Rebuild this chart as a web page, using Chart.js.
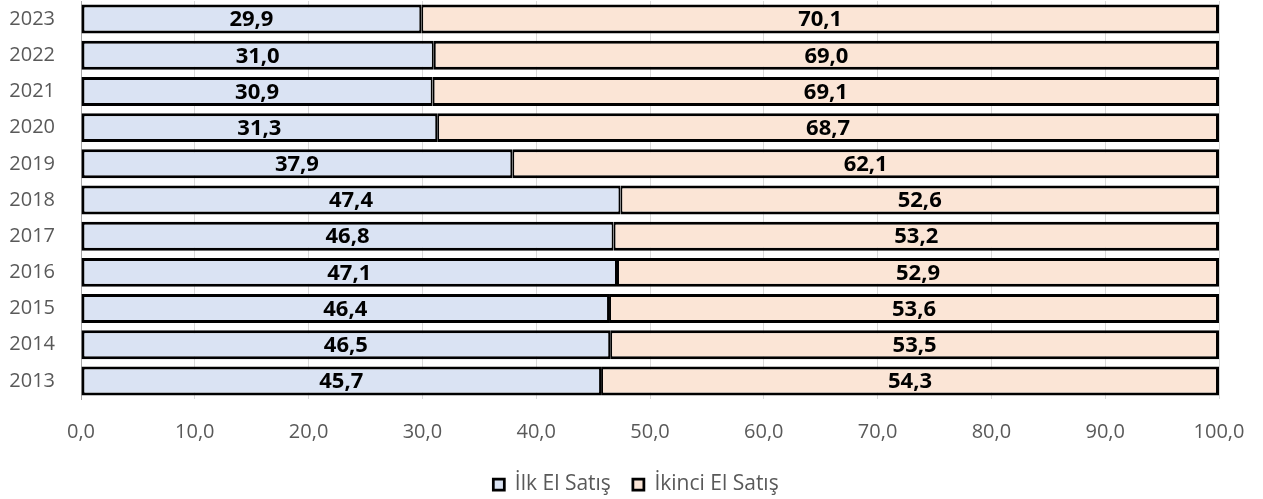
<!DOCTYPE html>
<html>
<head>
<meta charset="utf-8">
<script src="https://cdn.jsdelivr.net/npm/chart.js@4"></script>
<style>
  html, body { margin: 0; padding: 0; background: #fff; }
  #wrap { width: 1263px; height: 499px; }
</style>
</head>
<body>
<div id="wrap"><canvas id="shareChart"></canvas></div>
<script>
const years = ['2013', '2014', '2015', '2016', '2017', '2018', '2019', '2020', '2021', '2022', '2023'];
const ilkEl = [45.7, 46.5, 46.4, 47.1, 46.8, 47.4, 37.9, 31.3, 30.9, 31.0, 29.9];
const ikinciEl = [54.3, 53.5, 53.6, 52.9, 53.2, 52.6, 62.1, 68.7, 69.1, 69.0, 70.1];
const tickLabels = ['0,0', '10,0', '20,0', '30,0', '40,0', '50,0', '60,0', '70,0', '80,0', '90,0', '100,0'];

// bold value labels in the middle of each segment
const barLabels = {
    id: 'barLabels',
    afterDatasetsDraw(chart) {
        const ctx = chart.ctx;
        ctx.save();
        ctx.font = 'bold 22px "Open Sans"';
        ctx.fillStyle = '#000';
        ctx.textAlign = 'center';
        ctx.textBaseline = 'middle';
        chart.data.datasets.forEach((ds, i) => {
            chart.getDatasetMeta(i).data.forEach((bar, j) => {
                const x = (bar.x + bar.base) / 2;
                ctx.fillText(ds.data[j].toFixed(1).replace('.', ','), x, bar.y + 1);
            });
        });
        ctx.restore();
    }
};

// the legend sits centred on the whole page, not on the layout box
const legendShift = {
    id: 'legendShift',
    afterLayout(chart) {
        chart.legend.left += 22;
        chart.legend.right += 22;
    }
};

const ctx = document.getElementById('shareChart').getContext('2d');
const shareChart = new Chart(ctx, {
    type: 'bar',
    data: {
        labels: years,
        datasets: [{
            label: 'İlk El Satış',
            data: ilkEl,
            backgroundColor: '#dae3f3',
            borderColor: '#000',
            borderWidth: { left: 3, top: 3, bottom: 3, right: 2 },
            borderSkipped: false,
        }, {
            label: 'İkinci El Satış',
            data: ikinciEl,
            backgroundColor: '#fbe5d6',
            borderColor: '#000',
            borderWidth: { left: 2, top: 3, bottom: 3, right: 3 },
            borderSkipped: false,
        }]
    },
    options: {
        indexAxis: 'y',
        responsive: true,
        maintainAspectRatio: false,
        animation: false,
        layout: {
            padding: { left: 9, right: 44, top: 1, bottom: -6 }
        },
        datasets: {
            bar: { categoryPercentage: 1, barPercentage: 0.8 }
        },
        scales: {
            x: {
                stacked: true,
                min: 0,
                max: 100,
                ticks: {
                    stepSize: 10,
                    color: '#595959',
                    font: { family: 'Open Sans', size: 20 },
                    padding: 21,
                    callback: (value, index) => tickLabels[index]
                },
                grid: { color: '#d9d9d9', drawTicks: false },
                border: { display: false },
                afterFit(scale) {
                    scale.height = 53;
                    scale.paddingLeft = 0;
                    scale.paddingRight = 0;
                }
            },
            y: {
                stacked: true,
                reverse: true,
                ticks: {
                    color: '#595959',
                    font: { family: 'Open Sans', size: 20 },
                    padding: 26
                },
                grid: { display: false, drawTicks: false },
                border: { color: '#a6a6a6', width: 1 },
                afterFit(scale) {
                    scale.width = 72;
                    scale.paddingTop = 0;
                    scale.paddingBottom = 0;
                }
            }
        },
        plugins: {
            legend: {
                position: 'bottom',
                labels: {
                    color: '#595959',
                    font: { family: 'Open Sans', size: 21 },
                    boxWidth: 11,
                    boxHeight: 11,
                    padding: 22
                }
            },
            tooltip: { enabled: false }
        }
    },
    plugins: [barLabels, legendShift]
});
</script>
</body>
</html>
